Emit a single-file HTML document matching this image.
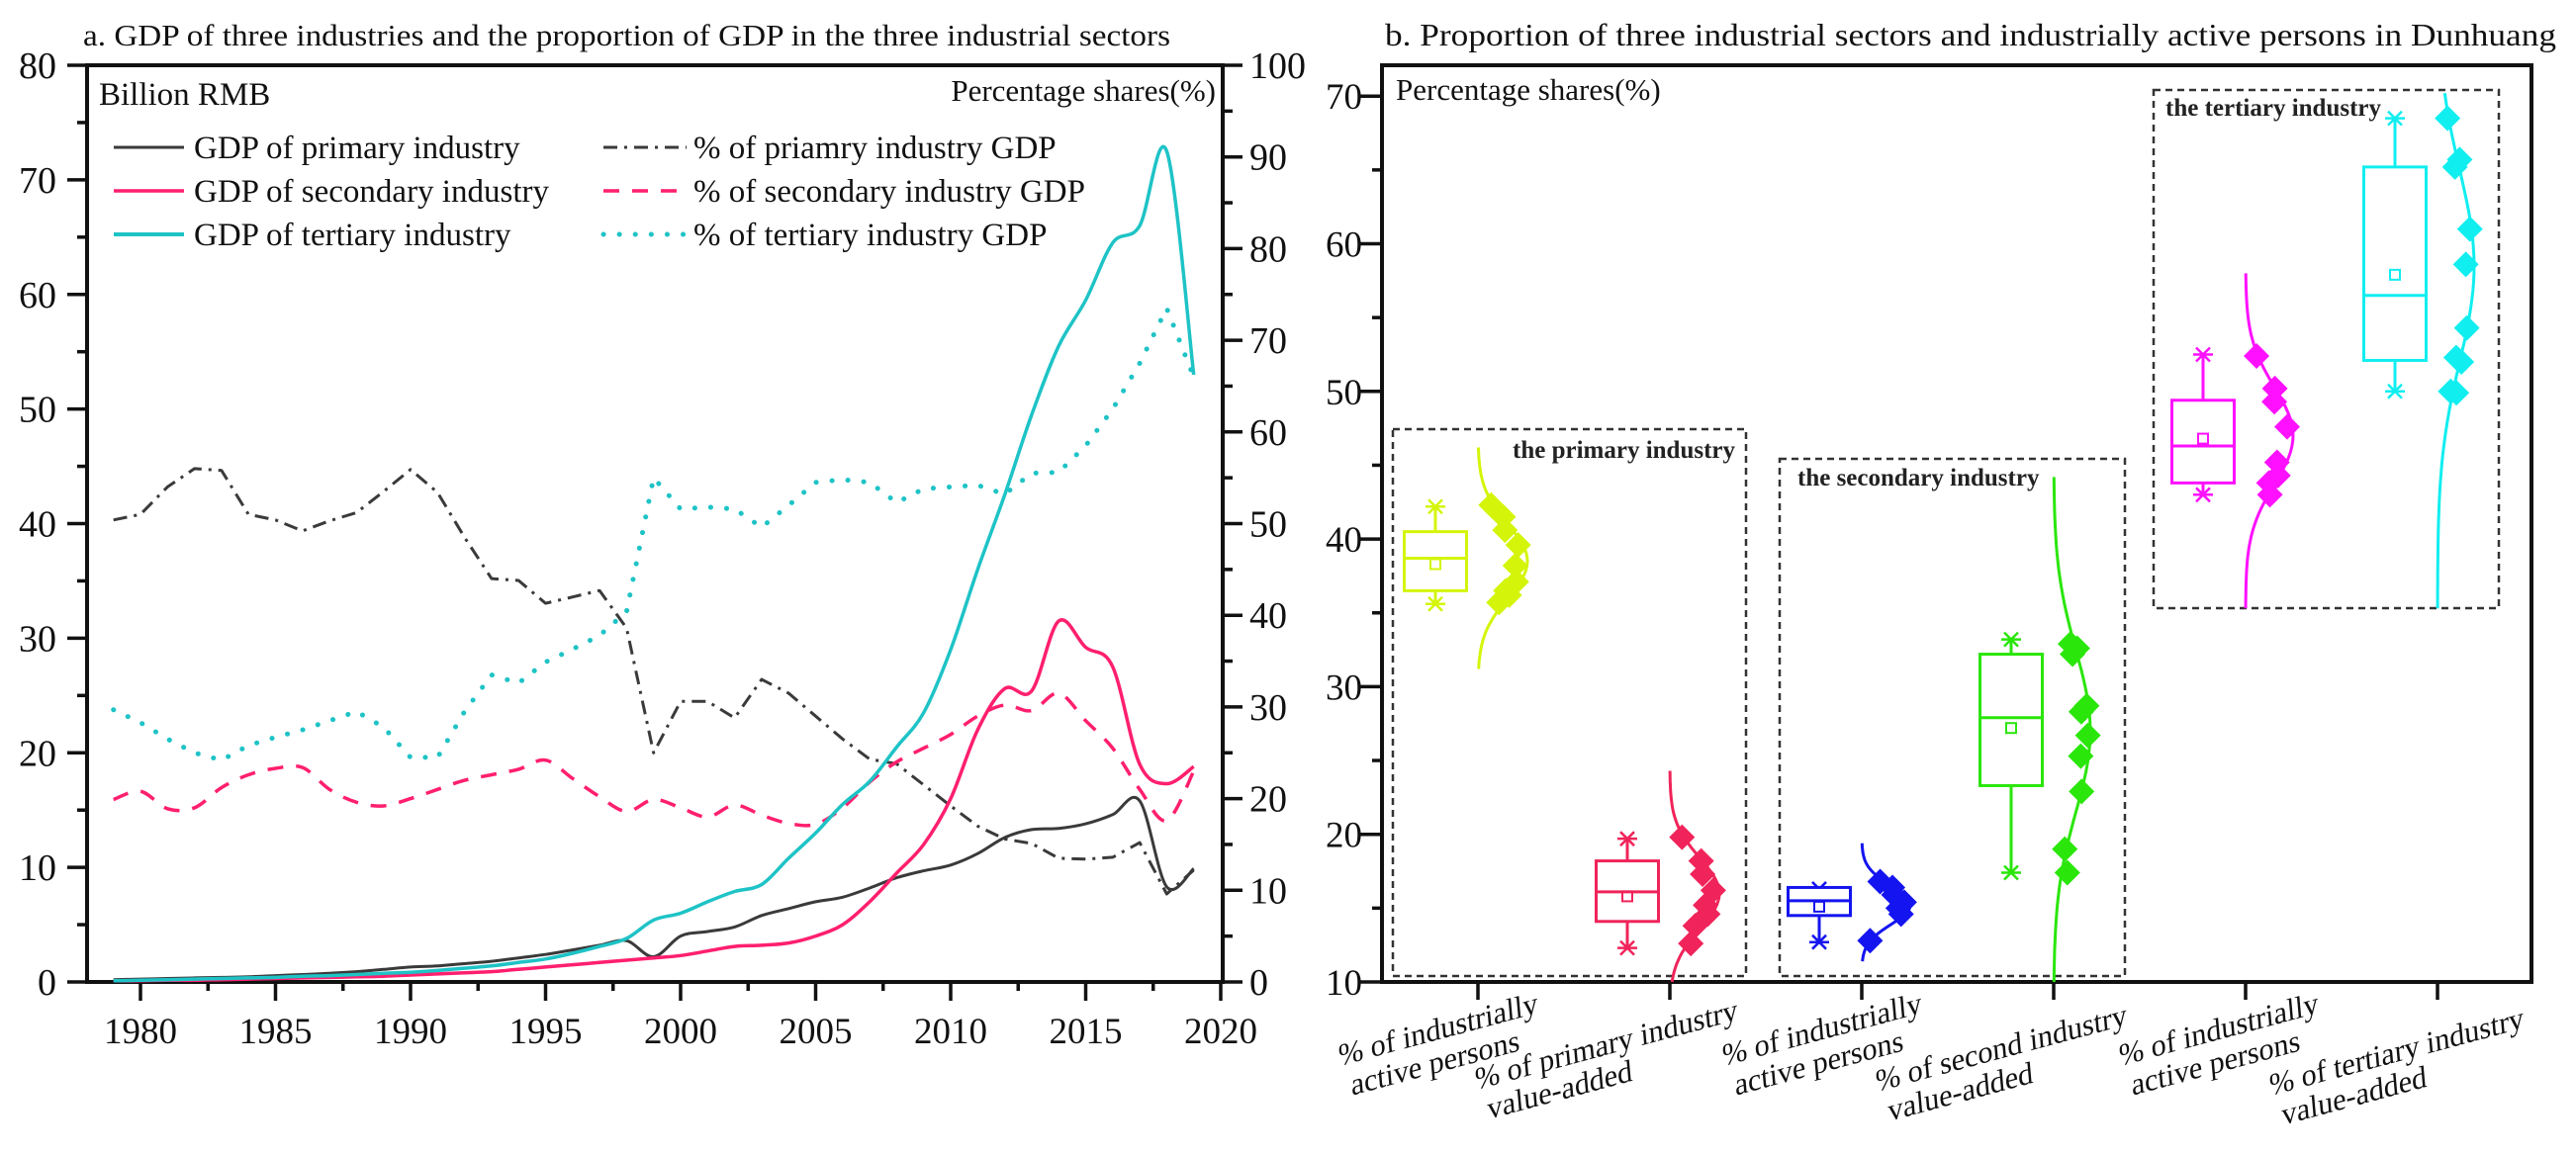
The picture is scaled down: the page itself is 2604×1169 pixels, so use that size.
<!DOCTYPE html>
<html><head><meta charset="utf-8"><style>
html,body{margin:0;padding:0;background:#fff;}
svg{display:block;font-family:"Liberation Serif",serif;}
</style></head><body>
<svg id="chart" width="2604" height="1169" viewBox="0 0 2604 1169" xmlns="http://www.w3.org/2000/svg">
<rect x="0" y="0" width="2604" height="1169" fill="#fff"/>
<text x="84" y="46" font-size="31" fill="#111" textLength="1099" lengthAdjust="spacingAndGlyphs">a. GDP of three industries and the proportion of GDP in the three industrial sectors</text>
<text x="1400" y="46" font-size="32" fill="#111" textLength="1184" lengthAdjust="spacingAndGlyphs">b. Proportion of three industrial sectors and industrially active persons in Dunhuang</text>
<g id="pa"></g>
<g id="pb"></g>
</svg>
<script>
// ---------- Panel a data ----------
const years = [];
for (let y = 1979; y <= 2019; y++) years.push(y);
const gdpPrimary = [.2,.25,.3,.35,.4,.45,.55,.65,.75,.9, 1.1,1.3,1.4,1.6,1.8,2.1,2.4,2.8,3.2,3.6, 2.2,4.0,4.4,4.8,5.8,6.4,7.0,7.4,8.2,9.1, 9.7,10.2,11.2,12.6,13.3,13.4,13.8,14.6,15.8,8.3,9.9];
const gdpSecondary = [.1,.1,.15,.15,.2,.25,.3,.35,.4,.45, .5,.6,.7,.8,.9,1.1,1.3,1.5,1.7,1.9, 2.1,2.3,2.7,3.1,3.2,3.4,4.0,5.0,7.0,9.5, 12,16,22,25.6,25.4,31.5,29.2,27.5,19,17.3,18.8];
const gdpTertiary = [.1,.15,.2,.25,.3,.35,.4,.5,.55,.65, .75,.85,1.0,1.2,1.4,1.7,2.0,2.5,3.1,3.8, 5.4,6.0,7.0,7.9,8.5,10.8,13,15.5,17.5,20.5, 23.5,29,36,42.5,49.5,55.5,59.5,64.5,66,72.5,53];
const pctPrimary = [50.4,51,54,56,55.8,51,50.4,49.2,50.3,51.2, 53.5,55.9,53.4,48.5,44,43.8,41.3,42,42.7,38.6, 25,30.6,30.6,28.8,33,31.5,29,26.5,24.3,23.8, 21.5,19.2,17,15.6,15.1,13.5,13.4,13.6,15.2,9.6,12.2];
const pctSecondary = [19.9,20.8,18.9,19,21.2,22.6,23.3,23.4,21,19.6, 19.2,20,21,22,22.6,23.2,24.2,22.2,20.2,18.6, 19.9,19,18,19.3,18.2,17.3,17.2,19,21.8,24, 25.5,27,29,30.2,29.6,31.5,28.5,25.5,21,17.6,23];
const pctTertiary = [29.7,28.3,26.5,25,24.2,25.8,26.7,27.5,28.5,29.5, 27.8,24.5,24.5,29.5,33.5,32.6,34.9,36.3,37.8,40.4, 55,51.6,51.8,51.6,49.6,52,54.5,54.8,54.5,52.3, 53.8,54,54.2,53.2,55.5,55.6,58.5,62.5,67.5,73.5,66];
const leftTicks = [0,10,20,30,40,50,60,70,80];
const rightTicks = [0,10,20,30,40,50,60,70,80,90,100];
const yearTicks = [1980,1985,1990,1995,2000,2005,2010,2015,2020];

// ---------- Panel b data ----------
const catLabels1 = ["% of industrially","% of primary industry","% of industrially","% of second industry","% of industrially","% of tertiary industry"];
const catLabels2 = ["active persons","value-added","active persons","value-added","active persons","value-added"];
const boxQ1 = [36.5,14.1,14.5,23.3,43.8,52.1];
const boxMedian = [38.7,16.1,15.5,27.9,46.3,56.5];
const boxQ3 = [40.5,18.2,16.4,32.2,49.4,65.2];
const boxMean = [38.3,15.8,15.1,27.2,46.8,57.9];
const whiskLow = [35.6,12.3,12.7,17.4,43.0,50.0];
const whiskHigh = [42.2,19.7,16.3,33.2,52.5,68.5];
const pts0 = [42.3,41.5,40.6,39.6,38.2,37.1,36.5,36.2,35.7];
const pts1 = [19.8,18.2,17.3,16.2,15.2,14.6,13.8,12.6];
const pts2 = [16.8,16.4,15.9,15.4,15.0,14.6,12.8];
const pts3 = [32.9,32.6,32.2,28.7,28.3,26.7,25.3,22.9,19.0,17.4];
const pts4 = [52.4,50.2,49.3,47.6,45.2,44.3,43.8,43.0];
const pts5 = [68.5,65.7,65.2,61.0,58.6,54.3,52.3,52.0,50.0,49.9];
const curveMean = [38.5,16.0,15.2,27.0,47.0,58.5];
const curveSd = [2.5,2.4,1.3,5.5,3.3,6.5];
const curveTop = [46.2,24.3,19.4,44.2,58.0,70.2];
const curveBottom = [31.2,10.0,11.4,10.0,35.3,35.3];
const pbTicks = [10,20,30,40,50,60,70];

const NS = "http://www.w3.org/2000/svg";
function mk(tag, attrs, parent) {
  const e = document.createElementNS(NS, tag);
  for (const k in attrs) e.setAttribute(k, attrs[k]);
  parent.appendChild(e);
  return e;
}
function smooth(pts) {
  let d = "M" + pts[0][0].toFixed(1) + "," + pts[0][1].toFixed(1);
  for (let i = 0; i < pts.length - 1; i++) {
    const p0 = pts[Math.max(0, i - 1)], p1 = pts[i], p2 = pts[i + 1], p3 = pts[Math.min(pts.length - 1, i + 2)];
    const c1 = [p1[0] + (p2[0] - p0[0]) / 6, p1[1] + (p2[1] - p0[1]) / 6];
    const c2 = [p2[0] - (p3[0] - p1[0]) / 6, p2[1] - (p3[1] - p1[1]) / 6];
    d += " C" + c1.map(v => v.toFixed(1)).join(",") + " " + c2.map(v => v.toFixed(1)).join(",") + " " + p2[0].toFixed(1) + "," + p2[1].toFixed(1);
  }
  return d;
}

// ---------- Panel a ----------
const pa = document.getElementById("pa");
const AX = {l: 88, r: 1236, t: 66, b: 993};
const xYear = y => 142 + (y - 1980) * 27.3;
const yLeft = v => AX.b - v * (AX.b - AX.t) / 80;
const yRight = p => AX.b - p * (AX.b - AX.t) / 100;

let e;
e = mk("path", {d: `M${AX.l},${AX.t} H${AX.r} V${AX.b} H${AX.l} Z`, fill: "none", stroke: "#111", "stroke-width": 4}, pa);


for (let v = 0; v <= 80; v += 5) {
  const major = v % 10 === 0;
  e = mk("line", {x1: AX.l - (major ? 20 : 10), x2: AX.l, y1: yLeft(v), y2: yLeft(v), stroke: "#111", "stroke-width": 3.5}, pa);
  
  
}
leftTicks.forEach(v => {
  e = mk("text", {x: 57, y: yLeft(v) + 13, "font-size": 38, "text-anchor": "end", fill: "#111"}, pa);
  e.textContent = v;
  
  
});
for (let p = 0; p <= 100; p += 5) {
  const major = p % 10 === 0;
  e = mk("line", {x1: AX.r, x2: AX.r + (major ? 20 : 10), y1: yRight(p), y2: yRight(p), stroke: "#111", "stroke-width": 3.5}, pa);
  
  
}
rightTicks.forEach(p => {
  e = mk("text", {x: 1263, y: yRight(p) + 13, "font-size": 38, fill: "#111"}, pa);
  e.textContent = p;
  
  
});
for (let y = 1980; y <= 2020; y += 2.5) {
  const major = y % 5 === 0;
  e = mk("line", {x1: xYear(y), x2: xYear(y), y1: AX.b, y2: AX.b + (major ? 19 : 9), stroke: "#111", "stroke-width": 3.5}, pa);
  
  
}
yearTicks.forEach(y => {
  e = mk("text", {x: xYear(y), y: 1055, "font-size": 37, "text-anchor": "middle", fill: "#111"}, pa);
  e.textContent = y;
  
  
});
e = mk("text", {x: 100, y: 106, "font-size": 33, fill: "#111"}, pa);
e.textContent = "Billion RMB";


e = mk("text", {x: 1229, y: 102, "font-size": 31, "text-anchor": "end", fill: "#111"}, pa);
e.textContent = "Percentage shares(%)";



const cBlack = "#3a3a3a", cPink = "#ff1f6e", cCyan = "#1ec3c6";
const styleDashDot = {stroke: cBlack, "stroke-width": 3, "stroke-dasharray": "14 7 3 7", fill: "none"};
const styleDash = {stroke: cPink, "stroke-width": 3.5, "stroke-dasharray": "16 13", fill: "none"};
const styleDot = {stroke: cCyan, "stroke-width": 5, "stroke-dasharray": "0.1 16", "stroke-linecap": "round", fill: "none"};
function series(vals, yFn, style, name, smoothIt) {
  const pts = vals.map((v, i) => [xYear(years[i]), yFn(v)]);
  const d = smoothIt ? smooth(pts) : "M" + pts.map(p => p[0].toFixed(1) + "," + p[1].toFixed(1)).join(" L");
  const el = mk("path", Object.assign({d: d, "stroke-linejoin": "round"}, style), pa);
  
  
}
series(pctPrimary, yRight, styleDashDot, "line-pct-primary", false);
series(pctSecondary, yRight, styleDash, "line-pct-secondary", true);
series(pctTertiary, yRight, styleDot, "line-pct-tertiary", false);
series(gdpPrimary, yLeft, {stroke: cBlack, "stroke-width": 3, fill: "none"}, "line-gdp-primary", true);
series(gdpSecondary, yLeft, {stroke: cPink, "stroke-width": 3.5, fill: "none"}, "line-gdp-secondary", true);
series(gdpTertiary, yLeft, {stroke: cCyan, "stroke-width": 3.5, fill: "none"}, "line-gdp-tertiary", true);

const legItems = [
  [115, 186, 196, 160, {stroke: cBlack, "stroke-width": 3}, "GDP of primary industry"],
  [115, 186, 196, 204, {stroke: cPink, "stroke-width": 3.5}, "GDP of secondary industry"],
  [115, 186, 196, 248, {stroke: cCyan, "stroke-width": 4}, "GDP of tertiary industry"],
  [610, 694, 701, 160, styleDashDot, "% of priamry industry GDP"],
  [610, 694, 701, 204, styleDash, "% of secondary industry GDP"],
  [610, 694, 701, 248, styleDot, "% of tertiary industry GDP"]
];
legItems.forEach(it => {
  const g = mk("g", {}, pa);
  
  
  const ln = mk("line", Object.assign({}, it[4], {x1: it[0], x2: it[1], y1: it[3] - 11, y2: it[3] - 11}), g);
  
  
  const t = mk("text", {x: it[2], y: it[3], "font-size": 33, fill: "#111"}, g);
  t.textContent = it[5];
  
  
});

// ---------- Panel b ----------
const pb = document.getElementById("pb");
const BX = {l: 1397, r: 2559, t: 66, b: 993};
const yB = v => BX.b - (v - 10) * 14.93;
const catX = [1494, 1688, 1882, 2076, 2270, 2464];
const colors = ["#d4f50a", "#f0245a", "#1414f0", "#2ae60a", "#ff10ff", "#10eef0"];
const ptsAll = [pts0, pts1, pts2, pts3, pts4, pts5];
const amps = [50, 50, 49, 37, 48, 37];

const frames = [
  [1408, 434, 1765, 987, "the primary industry", 1754, 463, "end", "group-frame-primary"],
  [1799, 464, 2148, 987, "the secondary industry", 1817, 491, "start", "group-frame-secondary"],
  [2177, 91, 2526, 615, "the tertiary industry", 2189, 117, "start", "group-frame-tertiary"]
];
frames.forEach(f => {
  e = mk("rect", {x: f[0], y: f[1], width: f[2] - f[0], height: f[3] - f[1], fill: "none", stroke: "#333", "stroke-width": 2.5, "stroke-dasharray": "7 5"}, pb);
  
  
  e = mk("text", {x: f[5], y: f[6], "font-size": 25, "font-weight": "bold", "text-anchor": f[7], fill: "#222"}, pb);
  e.textContent = f[4];
  
  
});

e = mk("rect", {x: BX.l, y: BX.t, width: BX.r - BX.l, height: BX.b - BX.t, fill: "none", stroke: "#111", "stroke-width": 4}, pb);


for (let v = 10; v <= 70; v += 5) {
  const major = v % 10 === 0;
  e = mk("line", {x1: BX.l - (major ? 22 : 10), x2: BX.l, y1: yB(v), y2: yB(v), stroke: "#111", "stroke-width": 3.5}, pb);
  
  
}
pbTicks.forEach(v => {
  e = mk("text", {x: 1377, y: yB(v) + 13, "font-size": 37, "text-anchor": "end", fill: "#111"}, pb);
  e.textContent = v;
  
  
});
e = mk("text", {x: 1411, y: 101, "font-size": 31, fill: "#111"}, pb);
e.textContent = "Percentage shares(%)";



const labOff = [[-140, 1078], [-196, 1102], [-140, 1078], [-179, 1104], [-127, 1078], [-169, 1108]];
catX.forEach((cx, i) => {
  e = mk("line", {x1: cx, x2: cx, y1: BX.b, y2: BX.b + 18, stroke: "#111", "stroke-width": 3.5}, pb);
  
  
  const lx = cx + labOff[i][0], ly = labOff[i][1];
  const t = mk("text", {x: 0, y: 0, "font-size": 31, fill: "#111", transform: `translate(${lx} ${ly}) rotate(-15) skewX(-10)`}, pb);
  
  
  const s1 = mk("tspan", {x: 0, y: 0}, t);
  s1.textContent = catLabels1[i];
  const s2 = mk("tspan", {x: 10, y: 32}, t);
  s2.textContent = catLabels2[i];
});

catX.forEach((cx, i) => {
  const col = colors[i];
  const g = mk("g", {}, pb);
  
  
  const bc = cx - 43, hw = 31.5;
  const off = v => amps[i] * Math.exp(-Math.pow(v - curveMean[i], 2) / (2 * curveSd[i] * curveSd[i]));
  const cpts = [];
  for (let k = 0; k <= 60; k++) {
    const v = curveBottom[i] + (curveTop[i] - curveBottom[i]) * k / 60;
    cpts.push((cx + off(v)).toFixed(1) + "," + yB(v).toFixed(1));
  }
  e = mk("path", {d: "M" + cpts.join(" L"), fill: "none", stroke: col, "stroke-width": 3}, g);
  
  
  e = mk("line", {x1: bc, x2: bc, y1: yB(whiskHigh[i]), y2: yB(boxQ3[i]), stroke: col, "stroke-width": 3}, g);
  
  
  e = mk("line", {x1: bc, x2: bc, y1: yB(boxQ1[i]), y2: yB(whiskLow[i]), stroke: col, "stroke-width": 3}, g);
  
  
  [whiskHigh[i], whiskLow[i]].forEach(w => {
    const yy = yB(w);
    e = mk("path", {d: `M${bc - 10},${yy} H${bc + 10} M${bc - 7},${yy - 7} L${bc + 7},${yy + 7} M${bc - 7},${yy + 7} L${bc + 7},${yy - 7}`, stroke: col, "stroke-width": 2.5, fill: "none"}, g);
    
    
  });
  e = mk("rect", {x: bc - hw, y: yB(boxQ3[i]), width: hw * 2, height: yB(boxQ1[i]) - yB(boxQ3[i]), fill: "#fff", stroke: col, "stroke-width": 3}, g);
  
  
  e = mk("line", {x1: bc - hw, x2: bc + hw, y1: yB(boxMedian[i]), y2: yB(boxMedian[i]), stroke: col, "stroke-width": 3}, g);
  
  
  e = mk("rect", {x: bc - 5, y: yB(boxMean[i]) - 5, width: 10, height: 10, fill: "none", stroke: col, "stroke-width": 2}, g);
  
  
  ptsAll[i].forEach((v, k) => {
    const px = cx + 0.72 * off(v) + (k % 2 ? 4 : -2) + 4, py = yB(v), r = 13;
    e = mk("polygon", {points: `${px},${py - r} ${px + r},${py} ${px},${py + r} ${px - r},${py}`, fill: col}, g);
    
    
  });
});
</script>
</body></html>
